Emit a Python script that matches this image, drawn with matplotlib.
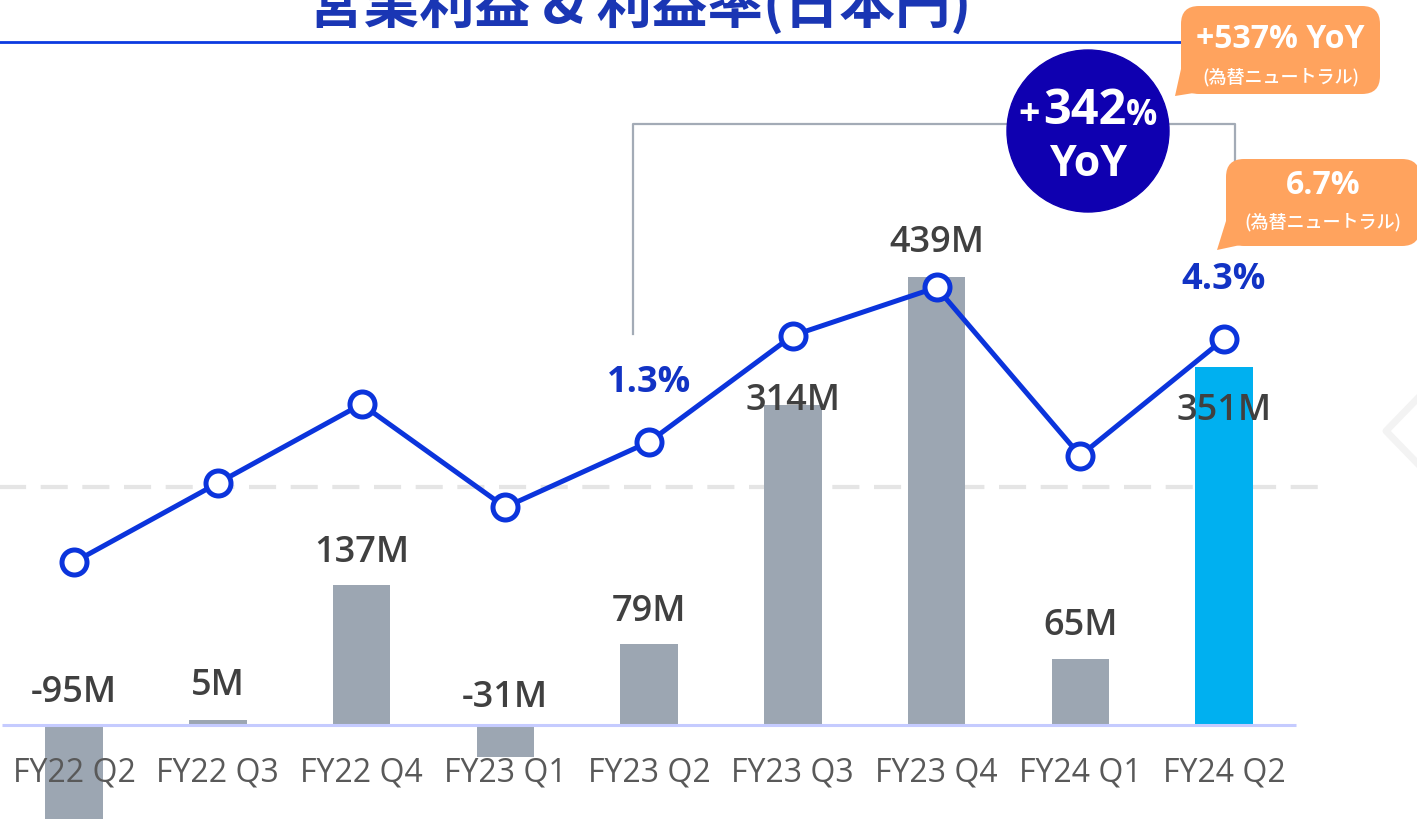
import matplotlib
matplotlib.use("Agg")
import matplotlib.pyplot as plt
from matplotlib.patches import FancyBboxPatch, Polygon, Circle

# ---------------- data ----------------
quarters = ["FY22 Q2", "FY22 Q3", "FY22 Q4", "FY23 Q1", "FY23 Q2",
            "FY23 Q3", "FY23 Q4", "FY24 Q1", "FY24 Q2"]
op_income_m = [-95, 5, 137, -31, 79, 314, 439, 65, 351]   # 営業利益 (百万円)
op_margin_pct = [-2.2, 0.1, 2.4, -0.6, 1.3, 4.4, 5.8, 0.9, 4.3]  # 利益率 (%)
margin_labels = {4: "1.3%", 8: "4.3%"}
title = "営業利益 & 利益率(日本円)"
yoy_main = ("+", "342", "%", "YoY")
bubble1 = ("+537% YoY", "(為替ニュートラル)")
bubble2 = ("6.7%", "(為替ニュートラル)")

# ---------------- style ----------------
W, H = 1417, 820
BAR_GRAY = "#9ca6b2"
BAR_HL = "#00b0f0"
LINE_BLUE = "#0b34dc"
LABEL_BLUE = "#1233c4"
TEXT_DARK = "#404040"
TICK_GRAY = "#595959"
ORANGE = "#ffa35e"
CIRCLE = "#0f00b0"
LATIN = ["Open Sans", "DejaVu Sans"]
JP = ["Noto Sans CJK JP", "DejaVu Sans"]

fig = plt.figure(figsize=(W / 100, H / 100), dpi=100)
fig.patch.set_facecolor("white")

# main axes spanning the whole figure
ax = fig.add_axes([0, 0, 1, 1])
x0_px, dx_px = 74, 143.75
base_px, px_per_m = 726, 1.0205
ax.set_xlim(-x0_px / dx_px, (W - x0_px) / dx_px)
ax.set_ylim(-(H - base_px) / px_per_m, base_px / px_per_m)
ax.axis("off")

# secondary axes for margin line
ax2 = fig.add_axes([0, 0, 1, 1], sharex=ax)
ax2.patch.set_alpha(0)
zero_px, px_per_pct = 487.6, 34.33
ax2.set_ylim(-(H - zero_px) / px_per_pct, zero_px / px_per_pct)
ax2.axis("off")

xs = list(range(len(quarters)))
colors = [BAR_GRAY] * (len(xs) - 1) + [BAR_HL]

# dashed zero-margin reference (behind bars)
ax.plot([-0.52, 8.75], [0, 0], color="#e5e5e5", lw=3, dashes=(6.5, 3.5), zorder=1,
        transform=ax2.transData)
ax.bar(xs, op_income_m, width=0.40, color=colors, zorder=2)

# baseline
ax.plot([-0.5, 8.5], [0, 0], color="#c5cbff", lw=2.2, zorder=3, solid_capstyle="butt")

# value labels (offsets in points)
label_offsets = {0: 24, 1: 25, 2: 24, 3: 20, 4: 24, 5: 3.5, 6: 25, 7: 24, 8: -31}
for i, v in enumerate(op_income_m):
    y = max(v, 0)
    ax.annotate(f"{v}M", (i, y), xytext=(0, label_offsets[i]), textcoords="offset points",
                ha="center", va="center", fontsize=26, color=TEXT_DARK,
                family=LATIN, fontweight="semibold", zorder=6)

# tick labels
for i, q in enumerate(quarters):
    ax.annotate(q, (i, 0), xytext=(0, -33.5), textcoords="offset points",
                ha="center", va="center", fontsize=23, color=TICK_GRAY,
                family=LATIN, zorder=6)

ax2.plot(xs, op_margin_pct, color=LINE_BLUE, lw=3.6, marker="o", markersize=18,
         markerfacecolor="white", markeredgecolor=LINE_BLUE, markeredgewidth=3.6, zorder=5)
for i, s in margin_labels.items():
    ax2.annotate(s, (i, op_margin_pct[i]), xytext=(0, 43), textcoords="offset points",
                 ha="center", va="center", fontsize=26, color=LABEL_BLUE,
                 family=LATIN, fontweight="bold", zorder=6)

# overlay in pixel coordinates for decorations
ov = fig.add_axes([0, 0, 1, 1])
ov.set_xlim(0, W)
ov.set_ylim(H, 0)
ov.axis("off")
ov.patch.set_alpha(0)

# title + underline
ov.text(640, 23, title, ha="center", va="baseline", fontsize=40, color="#1a36b4",
        family=JP, fontweight="bold")
ov.plot([0, 1182], [43, 43], color="#0b3ae0", lw=2)

# bracket between FY23 Q2 and FY24 Q2
bx1 = x0_px + dx_px * 4 - 16
bx2 = x0_px + dx_px * 8 + 11
ov.plot([bx1, bx1, bx2, bx2], [335, 125, 125, 165], color="#a3abb6", lw=1.6, zorder=2)

# YoY circle
ov.add_patch(Circle((1088, 132), 81, color=CIRCLE, zorder=4))
ov.text(1029, 115, yoy_main[0], ha="center", va="center", fontsize=27, color="white",
        family=LATIN, fontweight="bold", zorder=5)
ov.text(1085, 112, yoy_main[1], ha="center", va="center", fontsize=35, color="white",
        family=LATIN, fontweight="bold", zorder=5)
ov.text(1142, 116, yoy_main[2], ha="center", va="center", fontsize=25, color="white",
        family=LATIN, fontweight="bold", zorder=5)
ov.text(1088, 164, yoy_main[3], ha="center", va="center", fontsize=31, color="white",
        family=LATIN, fontweight="bold", zorder=5)

def bubble(x, y, w, h, tail, lines, y1, y2):
    ov.add_patch(FancyBboxPatch((x, y), w, h, boxstyle="round,pad=0,rounding_size=18",
                                fc=ORANGE, ec="none", zorder=6))
    ov.add_patch(Polygon(tail, closed=True, fc=ORANGE, ec="none", zorder=6))
    cx = x + w / 2
    ov.text(cx, y1, lines[0], ha="center", va="center", fontsize=23,
            color="white", family=LATIN, fontweight="bold", zorder=7)
    ov.text(cx, y2, lines[1], ha="center", va="center", fontsize=13,
            color="white", family=JP, fontweight="medium", zorder=7)

bubble(1181, 7, 199, 88, [(1181, 70), (1200, 93), (1175, 97)], bubble1, 40, 77)
bubble(1226, 160, 194, 87, [(1226, 222), (1245, 245), (1217, 251)], bubble2, 186, 222)

# faint navigation chevron at right edge
ov.plot([1417, 1386, 1417], [400, 432, 464], color="#f3f3f3", lw=5, zorder=1)

fig.savefig("out.png", dpi=100, facecolor="white")
